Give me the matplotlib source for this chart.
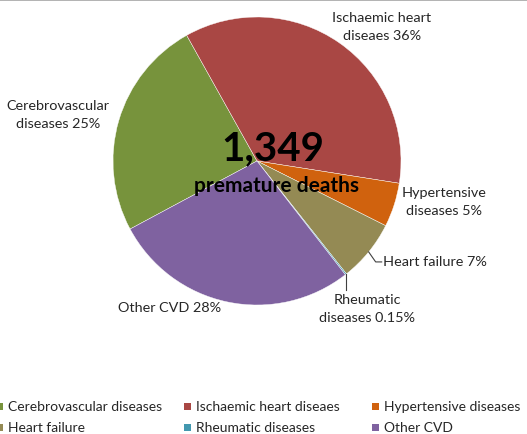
import numpy as np
import matplotlib
matplotlib.use('Agg')
import matplotlib.pyplot as plt
from matplotlib.patches import Rectangle

# ——— DATA ———
categories = ['Cerebrovascular diseases', 'Ischaemic heart diseaes', 'Hypertensive diseases',
              'Heart failure', 'Rheumatic diseases', 'Other CVD']
shares = [25, 36, 5, 7, 0.15, 28]   # percent, as printed on the labels
slice_labels = ['Cerebrovascular\ndiseases 25%', 'Ischaemic heart\ndiseaes 36%',
                'Hypertensive\ndiseases 5%', 'Heart failure 7%',
                'Rheumatic\ndiseases 0.15%', 'Other CVD 28%']
total_deaths = '1,349'
colors = ['#77933C', '#A94744', '#D0620E', '#948A54', '#4298AF', '#7F62A0']

# ——— FIGURE ———
W, H = 527, 435
plt.rcParams['font.family'] = ['Lato', 'DejaVu Sans']
TXT = '#262626'

fig = plt.figure(figsize=(W / 100, H / 100), dpi=100)
ax = fig.add_axes([0, 0, 1, 1])

cx, cy, r = 257, H - 162, 144
wedges, _ = ax.pie(shares, colors=colors, startangle=208.2, counterclock=False,
                   center=(cx, cy), radius=r,
                   wedgeprops=dict(edgecolor='white', linewidth=0.3))
ax.set_xlim(0, W)
ax.set_ylim(0, H)
ax.set_aspect('equal')
ax.axis('off')

# top border of chart area
ax.plot([0, W], [H - 0.5, H - 0.5], color='#A6A6A6', lw=1.2)

# ——— SLICE LABELS (image coords, y down) ———
lab_pos = [(58, 115, 'center'), (382, 27, 'center'), (444, 202, 'center'),
           (383, 262, 'left'), (367, 309, 'center'), (170, 308, 'center')]
for txt, (x, y, ha) in zip(slice_labels, lab_pos):
    ax.text(x, H - y, txt, ha=ha, va='center', fontsize=10.4, color=TXT, linespacing=1.55)

# leader lines for the two small slices
def edge_point(w):
    a = np.deg2rad((w.theta1 + w.theta2) / 2)
    return cx + r * np.cos(a), cy + r * np.sin(a)

x0, y0 = edge_point(wedges[3])
ax.plot([x0, x0 + 7, x0 + 13], [y0, y0 - 10, y0 - 10], color='#404040', lw=0.8)
x0, y0 = edge_point(wedges[4])
ax.plot([x0, x0], [y0, y0 - 16], color='#404040', lw=0.8)

# ——— CENTRE TEXT ———
ax.text(273, H - 149, total_deaths, ha='center', va='center', fontsize=29,
        fontweight='bold', color='black')
ax.text(276, H - 186, 'premature deaths', ha='center', va='center', fontsize=15,
        fontweight='bold', color='black')

# ——— LEGEND ———
col_x = [-4, 184, 372]
row_y = [407, 428]
for i, (name, c) in enumerate(zip(categories, colors)):
    x = col_x[i % 3]
    y = row_y[i // 3]
    ax.add_patch(Rectangle((x, H - y - 3.5), 7, 7, color=c, lw=0))
    ax.text(x + 12, H - y, name, ha='left', va='center', fontsize=10, color=TXT)

fig.savefig('out.png', dpi=100)
